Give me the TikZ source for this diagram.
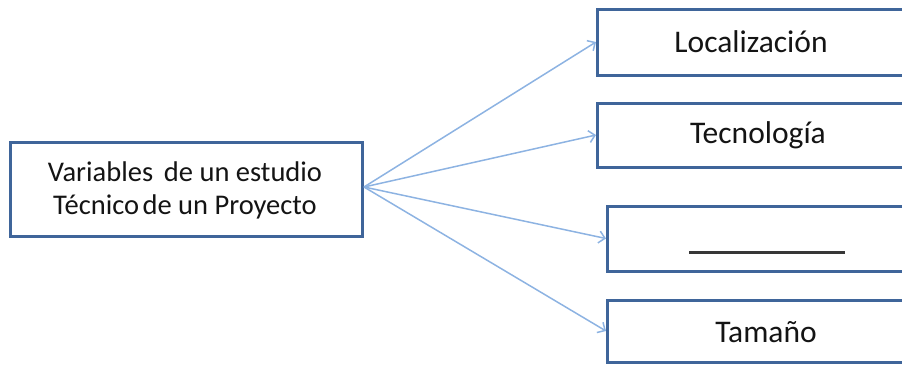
\documentclass[tikz,border=0pt]{standalone}
\usepackage{fontspec}
\setmainfont{Carlito}
\usetikzlibrary{arrows.meta}
\definecolor{boxblue}{HTML}{3F659A}
\definecolor{arrowblue}{HTML}{8DB3E2}
\definecolor{txt}{HTML}{141414}
\begin{document}
\begin{tikzpicture}[x=1pt,y=-1pt,
  box/.style={draw=boxblue, line width=3pt, fill=white, inner sep=0pt, rectangle},
  conn/.style={draw=arrowblue, line width=1.5pt, -{Straight Barb[length=6pt,width=12pt]}},
  lbl/.style={font=\fontsize{31.5}{36}\selectfont, text=txt, inner sep=0pt, align=center},
  srclbl/.style={font=\fontsize{28.5}{33}\selectfont, text=txt, inner sep=0pt, align=center}]
\useasboundingbox (0,0) rectangle (902,365);
\clip (0,0) rectangle (902,365);
\node[box, minimum width=352pt, minimum height=94pt] (src) at (186,189) {};
\node[srclbl] (srct) at (185,190) {Variables\hspace{0.38em}de un estudio\\Técnico\hspace{0.12em}de un Proyecto};
\node[box, minimum width=330pt, minimum height=66pt, anchor=west] (b1) at (596,42) {};
\node[box, minimum width=330pt, minimum height=64pt, anchor=west] (b2) at (596,135) {};
\node[box, minimum width=320pt, minimum height=65pt, anchor=west] (b3) at (606,238.5) {};
\node[box, minimum width=320pt, minimum height=62pt, anchor=west] (b4) at (606,331) {};
\node[lbl] (t1) at (751,42) {Localización};
\node[lbl] (t2) at (758,135) {Tecnología};
\node[lbl] (t4) at (766,332) {Tamaño};
\coordinate (ls) at (689,252);
\coordinate (le) at (845,252);
\draw[txt!85, line width=3pt] (ls) -- (le);
\coordinate (o) at (364,187);
\draw[conn] (o) -- (b1.west);
\draw[conn] (o) -- (b2.west);
\draw[conn] (o) -- (b3.west);
\draw[conn] (o) -- (b4.west);
\end{tikzpicture}
\end{document}
